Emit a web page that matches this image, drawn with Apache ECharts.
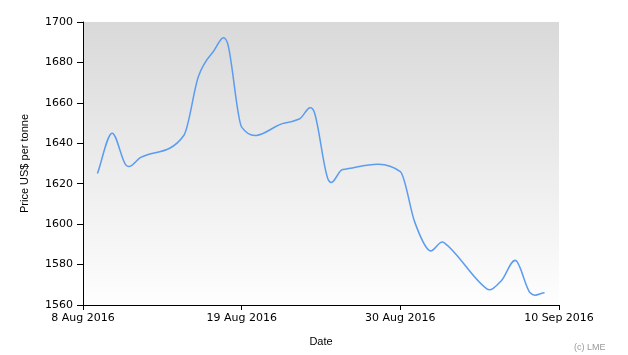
<!DOCTYPE html>
<html>
<head>
<meta charset="utf-8">
<script src="https://cdn.jsdelivr.net/npm/echarts@6/dist/echarts.min.js"></script>
<style>
html,body{margin:0;padding:0;background:#fff;}
#chart{width:628px;height:355px;}
</style>
</head>
<body>
<div id="chart"></div>
<script>
// Trading dates and LME prices (US$ per tonne)
var dates = ['2016-08-09','2016-08-10','2016-08-11','2016-08-12',
  '2016-08-15','2016-08-16','2016-08-17','2016-08-18','2016-08-19',
  '2016-08-22','2016-08-23','2016-08-24','2016-08-25','2016-08-26',
  '2016-08-30','2016-08-31','2016-09-01','2016-09-02',
  '2016-09-05','2016-09-06','2016-09-07','2016-09-08','2016-09-09'];
var prices = [1625,1645,1629,1633,
  1644,1673,1685,1690,1648,
  1650,1652,1656,1622,1627,
  1626,1601,1587,1591,
  1568,1572,1582,1566,1566];
var startDate = '2016-08-08';
var endDate = '2016-09-10';
var yTicks = [1560,1580,1600,1620,1640,1660,1680,1700];
var monthNames = ['Jan','Feb','Mar','Apr','May','Jun','Jul','Aug','Sep','Oct','Nov','Dec'];

var DAY = 86400000;
function toMs(s){ var p = s.split('-'); return Date.UTC(+p[0], +p[1]-1, +p[2]); }
var t0 = toMs(startDate);
function dayOffset(s){ return Math.round((toMs(s) - t0) / DAY); }
function fmtDay(d){ var dt = new Date(t0 + d * DAY); return dt.getUTCDate() + ' ' + monthNames[dt.getUTCMonth()] + ' ' + dt.getUTCFullYear(); }

var seriesData = dates.map(function(d, i){ return [dayOffset(d), prices[i]]; });

// Smooth spline y(x) through the points, mapped to pixels by the axes
function renderSpline(params, api){
  if (params.dataIndex !== 0) return null;
  var pts = seriesData.map(function(p){ return api.coord(p); });
  var n = pts.length;
  var m = [];
  for (var i = 0; i < n; i++) {
    var a = pts[Math.max(i - 1, 0)], b = pts[Math.min(i + 1, n - 1)];
    m.push((b[1] - a[1]) / (b[0] - a[0]));
  }
  var d = 'M' + pts[0][0] + ' ' + pts[0][1];
  for (var j = 0; j < n - 1; j++) {
    var p1 = pts[j], p2 = pts[j + 1];
    var h = (p2[0] - p1[0]) / 3;
    d += ' C' + (p1[0] + h) + ' ' + (p1[1] + m[j] * h) + ' ' +
         (p2[0] - h) + ' ' + (p2[1] - m[j + 1] * h) + ' ' + p2[0] + ' ' + p2[1];
  }
  return {
    type: 'path',
    shape: {pathData: d},
    style: {fill: 'none', stroke: '#5b9cf0', lineWidth: 1.5}
  };
}

var chart = echarts.init(document.getElementById('chart'), null, {renderer:'canvas'});
chart.setOption({
  animation: false,
  backgroundColor: '#ffffff',
  grid: {
    left: 83, right: 69, top: 22, bottom: 50,
    outerBoundsMode: 'none',
    show: true,
    borderWidth: 0,
    backgroundColor: {
      type: 'linear', x: 0, y: 0, x2: 0, y2: 1,
      colorStops: [{offset: 0, color: '#d9d9d9'}, {offset: 1, color: '#fefefe'}]
    }
  },
  xAxis: {
    type: 'value',
    min: 0,
    max: dayOffset(endDate),
    interval: 11,
    name: 'Date',
    nameLocation: 'middle',
    nameGap: 31,
    nameTextStyle: {fontFamily: 'Liberation Sans', fontSize: 11, color: '#000'},
    axisLine: {show: true, lineStyle: {color: '#000', width: 1}},
    axisTick: {show: true, length: 5, lineStyle: {color: '#000'}},
    splitLine: {show: false},
    axisLabel: {
      margin: 8,
      fontFamily: 'DejaVu Sans', fontSize: 11, color: '#000',
      showMinLabel: true, showMaxLabel: true,
      formatter: function(v){ return fmtDay(v); }
    }
  },
  yAxis: {
    type: 'value',
    min: yTicks[0],
    max: yTicks[yTicks.length-1],
    interval: yTicks[1] - yTicks[0],
    name: 'Price US$ per tonne',
    nameLocation: 'middle',
    nameGap: 53,
    nameRotate: 90,
    nameTextStyle: {fontFamily: 'Liberation Sans', fontSize: 11, color: '#000'},
    axisLine: {show: true, lineStyle: {color: '#000', width: 1}},
    axisTick: {show: true, length: 6, lineStyle: {color: '#000'}},
    splitLine: {show: false},
    axisLabel: {margin: 10, fontFamily: 'DejaVu Sans', fontSize: 11, color: '#000',
      formatter: function(v){ return String(v); }}
  },
  graphic: [{
    type: 'text', left: 574, top: 343,
    style: {text: '(c) LME', fontFamily: 'Liberation Sans', fontSize: 9, fill: '#9a9a9a'}
  }],
  series: [{
    type: 'custom',
    coordinateSystem: 'cartesian2d',
    renderItem: renderSpline,
    data: seriesData,
    encode: {x: 0, y: 1},
    clip: true,
    silent: true
  }]
});
</script>
</body>
</html>
